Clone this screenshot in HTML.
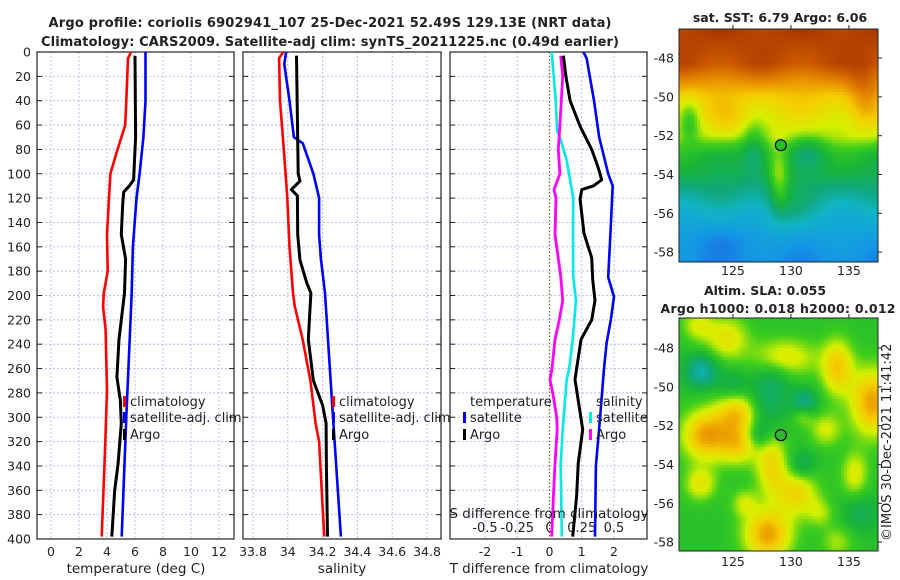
<!DOCTYPE html>
<html><head><meta charset="utf-8">
<style>
html,body{margin:0;padding:0;background:#fff;}
#root{position:relative;width:900px;height:580px;overflow:hidden;font-family:"DejaVu Sans","Liberation Sans",sans-serif;}
svg text{font-family:"DejaVu Sans","Liberation Sans",sans-serif;fill:#222;}
canvas{position:absolute;}
</style></head>
<body>
<div id="root">
<canvas id="sst" width="199" height="233" style="left:679px;top:29px;width:199px;height:233px"></canvas>
<canvas id="sla" width="199" height="233" style="left:679px;top:318px;width:199px;height:233px"></canvas>
<svg id="svg" width="900" height="580" style="position:absolute;left:0;top:0"></svg>
</div>
<script>
// ---- data (depth in m) ----
const climTdep=[0,3,5,40,60,83,100,120,150,180,198,209,228,278,332,398];
const climT=[5.7,5.6,5.5,5.38,5.3,4.67,4.24,4.14,4.0,4.05,3.77,3.72,3.9,4.0,3.84,3.62];
const argoTdep=[3,70,105,110,115,125,150,170,198,236,267,286,305,338,360,398];
const argoT=[6.0,6.04,5.9,5.6,5.19,5.12,5.02,5.33,5.25,4.86,4.71,4.95,5.02,4.79,4.55,4.34];
const satTdep=[0,40,70,100,120,160,200,300,398];
const satT=[6.75,6.75,6.6,6.33,6.11,5.85,5.76,5.38,5.05];

const climSdep=[0,5,40,80,120,160,198,209,236,270,305,320,360,398];
const climS=[33.974,33.95,33.955,33.977,33.997,34.01,34.03,34.04,34.085,34.13,34.16,34.18,34.195,34.21];
const argoSdep=[3,100,106,113,118,150,171,190,198,236,270,290,305,340,398];
const argoS=[34.05,34.06,34.07,34.02,34.055,34.057,34.07,34.11,34.133,34.118,34.147,34.2,34.22,34.222,34.228];
const satSdep=[0,10,40,70,75,100,120,150,170,198,300,398];
const satS=[33.99,33.98,34.01,34.035,34.086,34.147,34.18,34.18,34.19,34.214,34.26,34.305];

const dTsatDep=[0,5,40,70,100,110,143,185,201,220,239,260,300,340,398];
const dTsat=[1.05,1.15,1.38,1.54,1.82,1.96,1.9,1.82,2.0,1.9,1.77,1.69,1.57,1.44,1.41];
const dTargoDep=[3,20,40,61,80,95,105,110,113,121,149,169,187,204,220,236,260,269,310,338,365,398];
const dTargo=[0.43,0.51,0.64,0.95,1.31,1.51,1.62,1.36,1.0,0.95,1.07,1.31,1.34,1.41,1.31,0.98,0.84,0.79,1.03,0.89,0.84,0.72];
const dSsatDep=[0,40,65,70,89,120,150,184,204,236,260,269,310,338,398];
const dSsat=[0.017,0.048,0.06,0.081,0.133,0.184,0.182,0.184,0.205,0.18,0.153,0.133,0.102,0.087,0.095];
const dSargoDep=[3,20,60,80,100,113,120,150,160,184,204,220,236,260,269,283,300,310,338,365,398];
const dSargo=[0.087,0.102,0.081,0.068,0.081,0.035,0.05,0.043,0.056,0.087,0.102,0.076,0.043,0.019,0.004,0.03,0.056,0.06,0.043,0.03,0.017];

const depthTicks=[0,20,40,60,80,100,120,140,160,180,200,220,240,260,280,300,320,340,360,380,400];
const tTicks=[0,2,4,6,8,10,12];
const sTicks=[33.8,34,34.2,34.4,34.6,34.8];
const sTickLabels=["33.8","34","34.2","34.4","34.6","34.8"];
const dTTicks=[-2,-1,0,1,2];
const dSTicks=[-0.5,-0.25,0,0.25,0.5];
const dSTickLabels=["-0.5","-0.25","0","0.25","0.5"];
const latTicks=[-48,-50,-52,-54,-56,-58];
const lonTicks=[125,130,135];
const argoLon=129.13, argoLat=-52.49;

// ---- axes ----
const Y=d=>52+d*1.2175;
const X1=v=>51+v*14.0;
const X2=v=>253+(v-33.8)*174;
const X3=v=>549.5+v*32.25;
const XS=v=>549.5+v*129;
const panels=[[37,234],[243,441],[450,647]];
const mapLon=v=>679+(v-120.35)*11.6;
const mapLatTop=v=>29+(-46.5-v)*19.4;
const mapLatBot=v=>318+(-46.45-v)*19.4;

const NS='http://www.w3.org/2000/svg';
const svg=document.getElementById('svg');
function el(tag,attrs,parent){const e=document.createElementNS(NS,tag);for(const k in attrs)e.setAttribute(k,attrs[k]);(parent||svg).appendChild(e);return e;}
function txt(x,y,s,opt,parent){const t=el('text',Object.assign({x:x,y:y,'font-size':12.5},opt||{}),parent);t.textContent=s;return t;}

panels.forEach((p,i)=>{
  const g=el('g',{});
  
  
  let xt= i==0?tTicks.map(X1): i==1?sTicks.map(X2): dTTicks.map(X3);
  depthTicks.forEach(d=>{
    if(d>0&&d<400) el('line',{x1:p[0],x2:p[1],y1:Y(d),y2:Y(d),stroke:'#b8c0e8','stroke-width':1,'stroke-dasharray':'2,2'},g);
    el('line',{x1:p[0],x2:p[0]+5,y1:Y(d),y2:Y(d),stroke:'#222'},g);
    el('line',{x1:p[1]-5,x2:p[1],y1:Y(d),y2:Y(d),stroke:'#222'},g);
  });
  xt.forEach((x,j)=>{
    if(i==2 && j==2) el('line',{x1:x,x2:x,y1:Y(0),y2:Y(400),stroke:'#556b2f','stroke-width':1.2,'stroke-dasharray':'1.5,2'},g);
    else el('line',{x1:x,x2:x,y1:Y(0),y2:Y(400),stroke:'#b8c0e8','stroke-width':1,'stroke-dasharray':'2,2'},g);
  });
  el('rect',{x:p[0],y:Y(0),width:p[1]-p[0],height:Y(400)-Y(0),fill:'none',stroke:'#222','stroke-width':1.2},g);
});
depthTicks.forEach(d=>{const t=txt(31,Y(d)+4.5,String(d),{'text-anchor':'end'});});
tTicks.forEach(v=>{const t=txt(X1(v),556,String(v),{'text-anchor':'middle'});});
sTicks.forEach((v,i)=>{const t=txt(X2(v),556,sTickLabels[i],{'text-anchor':'middle'});});
dTTicks.forEach(v=>{const t=txt(X3(v),556,String(v),{'text-anchor':'middle'});});
dSTicks.forEach((v,i)=>{const t=txt(XS(v),532,dSTickLabels[i],{'text-anchor':'middle','font-size':13});});

function line(xs,ds,xf,color,name,w){
  const pts=xs.map((v,i)=>xf(v).toFixed(1)+','+Y(ds[i]).toFixed(1)).join(' ');
  const p=el('polyline',{points:pts,fill:'none',stroke:color,'stroke-width':w||2.6,'stroke-linejoin':'round'});
  
  
}
line(climT,climTdep,X1,'#ff0000','climatology-temperature-line');
line(satT,satTdep,X1,'#0000ff','satellite-temperature-line');
line(argoT,argoTdep,X1,'#000000','argo-temperature-line',3);
line(climS,climSdep,X2,'#ff0000','climatology-salinity-line');
line(satS,satSdep,X2,'#0000ff','satellite-salinity-line');
line(argoS,argoSdep,X2,'#000000','argo-salinity-line',3);
line(dSsat,dSsatDep,XS,'#00e8e8','satellite-s-diff-line');
line(dSargo,dSargoDep,XS,'#ff00ff','argo-s-diff-line',2.8);
line(dTsat,dTsatDep,X3,'#0000ff','satellite-t-diff-line');
line(dTargo,dTargoDep,X3,'#000000','argo-t-diff-line',3);

function legItem(x,y,color,label,name){
  const g=el('g',{});
  
  
  if(color) el('rect',{x:x-7,y:y-10,width:3,height:11,fill:color},g);
  txt(x,y,label,{'font-size':13},g);
}
legItem(130,406,'#ff0000','climatology','legend-climatology-t');
legItem(130,422,'#0000ff','satellite-adj. clim','legend-satellite-t');
legItem(130,439,'#000000','Argo','legend-argo-t');
legItem(339,406,'#ff0000','climatology','legend-climatology-s');
legItem(339,422,'#0000ff','satellite-adj. clim','legend-satellite-s');
legItem(339,439,'#000000','Argo','legend-argo-s');
legItem(470,406,null,'temperature','legend-title-temperature');
legItem(470,422,'#0000ff','satellite','legend-satellite-dt');
legItem(470,439,'#000000','Argo','legend-argo-dt');
legItem(596,406,null,'salinity','legend-title-salinity');
legItem(596,422,'#00e8e8','satellite','legend-satellite-ds');
legItem(596,439,'#ff00ff','Argo','legend-argo-ds');

let t;
t=txt(330,27,'Argo profile: coriolis 6902941_107 25-Dec-2021 52.49S 129.13E (NRT data)',{'text-anchor':'middle','font-weight':'bold','font-size':13,textLength:563});

t=txt(330,46,'Climatology: CARS2009. Satellite-adj clim: synTS_20211225.nc (0.49d earlier)',{'text-anchor':'middle','font-weight':'bold','font-size':13,textLength:578});

t=txt(136,573,'temperature (deg C)',{'text-anchor':'middle','font-size':13.5});

t=txt(342,573,'salinity',{'text-anchor':'middle','font-size':13.5});

t=txt(549,573,'T difference from climatology',{'text-anchor':'middle','font-size':13.5});

t=txt(549,518,'S difference from climatology',{'text-anchor':'middle','font-size':13.5});

t=txt(780,22,'sat. SST: 6.79 Argo: 6.06',{'text-anchor':'middle','font-weight':'bold','font-size':12.5});

t=txt(765,295,'Altim. SLA: 0.055',{'text-anchor':'middle','font-weight':'bold','font-size':12.5});

t=txt(778,313,'Argo h1000: 0.018 h2000: 0.012',{'text-anchor':'middle','font-weight':'bold','font-size':12.5,textLength:235});

t=txt(0,0,'©IMOS 30-Dec-2021 11:41:42',{'font-size':13,transform:'translate(891,541) rotate(-90)'});


[[29,mapLatTop,275],[318,mapLatBot,566]].forEach((m,k)=>{
  const top=m[0],LY=m[1];
  el('rect',{x:679,y:top,width:199,height:233,fill:'none',stroke:'#222','stroke-width':1});
  latTicks.forEach(v=>{
    el('line',{x1:878,x2:882,y1:LY(v),y2:LY(v),stroke:'#222'});
    const tt=txt(674,LY(v)+4.5,String(v),{'text-anchor':'end'});
    
  });
  lonTicks.forEach(v=>{
    el('line',{x1:mapLon(v),x2:mapLon(v),y1:top,y2:top-4,stroke:'#222'});
    const tt=txt(mapLon(v),m[2],String(v),{'text-anchor':'middle'});
    
  });
  const c=el('circle',{cx:mapLon(argoLon),cy:LY(argoLat),r:5.5,fill:k==0?'#20c020':'#30b830',stroke:'#000','stroke-width':1.2});
  
});

// ---- map imagery ----
const stops=[[0,[26,80,224]],[0.12,[20,150,230]],[0.26,[16,180,200]],[0.36,[16,168,120]],[0.45,[24,180,56]],[0.53,[60,205,30]],[0.62,[215,240,0]],[0.72,[245,205,0]],[0.82,[232,140,0]],[0.92,[200,84,0]],[1,[165,52,0]]];
function cmap(v){v=Math.max(0,Math.min(1,v));for(let i=1;i<stops.length;i++){if(v<=stops[i][0]){const a=stops[i-1],b=stops[i],f=(v-a[0])/(b[0]-a[0]);return a[1].map((c,j)=>Math.round(c+(b[1][j]-c)*f));}}return stops[stops.length-1][1];}
function g2(lon,lat,b){const dx=(lon-b[0])/(b[3]*1.6),dy=(lat-b[1])/(b[4]||b[3]);return b[2]*Math.exp(-(dx*dx+dy*dy)/2);}
const sstLat=[-58.6,-57.5,-56,-55,-54,-53,-52,-51,-50,-49,-48.3,-46.4];
const sstVal=[0.1,0.15,0.24,0.33,0.42,0.47,0.6,0.66,0.72,0.84,0.93,0.98];
const sstBlobs=[[129,-54.3,0.16,0.4,1.2],[126.8,-52.7,-0.12,0.5,1.0],[131.5,-52.8,-0.09,0.7,0.6],[124.5,-51.2,0.06,0.8,0.6],[121.3,-51.2,-0.12,0.4,0.8],[136.3,-50,0.1,0.6,1.2],[130,-55.8,0.08,1.0,0.8],[124,-57.3,-0.05,1.5,0.6]];
const slaBlobs=[[122.7,-52.5,0.9,0.9],[125.5,-51.3,0.8,0.8],[125.5,-53,0.6,0.7],[128.3,-54,0.6,0.6,1.1],[128,-57.6,0.9,0.9],[130.5,-55.5,0.6,0.8],[134,-49,0.7,0.6,1],[137,-50.8,0.9,0.8,1.2],[129.5,-48.5,0.5,1.2,0.7],[124.5,-47.5,0.5,0.8],[122.2,-55,0.5,0.6],[135.5,-54.5,0.45,0.5,0.8],[133,-52.2,0.4,0.6],[131,-51.5,0.3,0.4],[134,-58,0.3,0.6],[122,-46.8,0.4,0.6],[132.5,-56.5,0.3,0.5],[126,-56,0.35,0.5],
 [122.3,-49.2,-0.6,0.6],[127.5,-51,-0.35,0.9],[131.2,-50.8,-0.45,0.5],[127.2,-52.5,-0.35,0.5],[131,-54,-0.3,0.5],[125,-50,-0.3,0.6],[128.5,-49.5,-0.25,0.7],[136,-56.5,-0.25,0.7]];
function interp(xs,ys,x){if(x<=xs[0])return ys[0];for(let i=1;i<xs.length;i++)if(x<=xs[i]){const f=(x-xs[i-1])/(xs[i]-xs[i-1]);return ys[i-1]+f*(ys[i]-ys[i-1]);}return ys[ys.length-1];}
function drawMap(id,fn,cell,topLat){
  const cv=document.getElementById(id),ctx=cv.getContext('2d');
  for(let y=0;y<233;y+=cell)for(let x=0;x<199;x+=cell){
    const lon=120.35+(x+cell/2)/11.6,lat=topLat-(y+cell/2)/19.4;
    const c=cmap(fn(lon,lat));ctx.fillStyle='rgb('+c.join(',')+')';ctx.fillRect(x,y,cell,cell);
  }
}
drawMap('sst',(lon,lat)=>{
  let v=interp(sstLat,sstVal,lat);
  v+=0.025*Math.sin(lon*0.9)*Math.cos(lat*1.3);
  sstBlobs.forEach(b=>v+=g2(lon,lat,b));
  return v;
},3,-46.5);
drawMap('sla',(lon,lat)=>{
  let v=0.49;slaBlobs.forEach(b=>v+=0.33*g2(lon,lat,b));return v;
},3,-46.45);
</script>
</body></html>
